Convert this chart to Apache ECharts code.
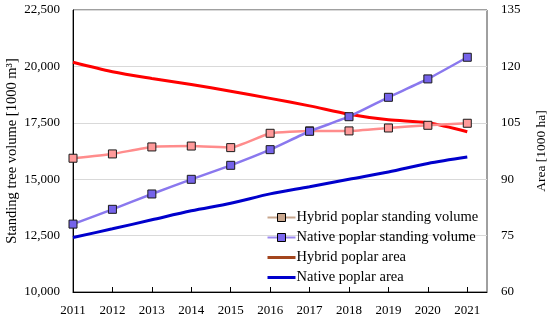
<!DOCTYPE html>
<html>
<head>
<meta charset="utf-8">
<script src="https://cdn.jsdelivr.net/npm/echarts@6/dist/echarts.min.js"></script>
<style>html,body{margin:0;padding:0;background:#fff}#c{width:550px;height:322px}</style>
</head>
<body>
<div id="c"></div>
<script>
var years = [2011, 2012, 2013, 2014, 2015, 2016, 2017, 2018, 2019, 2020, 2021];
var hybridVolume = [15930, 16120, 16430, 16470, 16400, 17035, 17140, 17140, 17270, 17390, 17480];
var nativeVolume = [13010, 13665, 14345, 14995, 15615, 16310, 17125, 17770, 18630, 19445, 20405];
var hybridArea = [121.1, 118.6, 116.8, 115.2, 113.4, 111.5, 109.5, 107.3, 105.8, 105.0, 102.6];
var nativeArea = [74.5, 76.8, 79.2, 81.6, 83.6, 86.1, 88.0, 90.0, 91.9, 94.2, 95.9];
var leftTicks = [10000, 12500, 15000, 17500, 20000, 22500];
var rightTicks = [60, 75, 90, 105, 120, 135];
var names = ['Hybrid poplar standing volume', 'Native poplar standing volume', 'Hybrid poplar area', 'Native poplar area'];

function pairs(vals) { return years.map(function (y, i) { return [y, vals[i]]; }); }

var FONT = 'Liberation Serif';
var chart = echarts.init(document.getElementById('c'));
chart.setOption({
  animation: false,
  textStyle: { fontFamily: FONT, color: '#000' },
  grid: { left: 73, right: 63, top: 10, bottom: 30, show: true, borderColor: '#404040', borderWidth: 1,
          containLabel: false, outerBoundsMode: 'none' },
  legend: {
    orient: 'vertical', left: 261, top: 205, itemGap: 5, itemWidth: 28, itemHeight: 10,
    textStyle: { fontFamily: FONT, fontSize: 14.5, color: '#000', padding: [0, 0, 0, -4] },
    data: [
      { name: names[0], itemStyle: { color: '#c8a68c', borderColor: '#000', borderWidth: 1 }, lineStyle: { color: '#c8a68c', width: 2 } },
      { name: names[1], itemStyle: { color: '#7b68ee', borderColor: '#000', borderWidth: 1 }, lineStyle: { color: '#9a88f0', width: 2 } },
      { name: names[2], itemStyle: { color: 'rgba(0,0,0,0)', borderWidth: 0 }, lineStyle: { color: '#a3461e', width: 3 } },
      { name: names[3], itemStyle: { color: 'rgba(0,0,0,0)', borderWidth: 0 }, lineStyle: { color: '#0000cc', width: 3 } }
    ]
  },
  xAxis: {
    type: 'value', min: 2011, max: 2021.5, interval: 1,
    axisLine: { lineStyle: { color: '#000', width: 1 } },
    axisTick: { inside: true, length: 5, lineStyle: { color: '#000' }, customValues: years },
    axisLabel: { fontSize: 13, margin: 12, color: '#000', customValues: years, formatter: function (v) { return String(v); } },
    splitLine: { show: false }
  },
  yAxis: [
    {
      type: 'value', min: 10000, max: 22500, interval: 2500,
      name: 'Standing tree volume [1000 m³]', nameLocation: 'middle', nameGap: 53, nameRotate: 90,
      nameMoveOverlap: false,
      nameTextStyle: { fontSize: 14.5, fontFamily: FONT, color: '#000' },
      axisLine: { show: true, lineStyle: { color: '#000', width: 1 } },
      axisTick: { show: false },
      axisLabel: { fontSize: 13, margin: 13, color: '#000', formatter: function (v) { return v.toLocaleString('en-US'); } },
      splitLine: { show: true, lineStyle: { color: '#d9d9d9', width: 1 } }
    },
    {
      type: 'value', min: 60, max: 135, interval: 15,
      name: 'Area [1000 ha]', nameLocation: 'middle', nameGap: 47, nameRotate: 90,
      nameMoveOverlap: false,
      nameTextStyle: { fontSize: 13.5, fontFamily: FONT, color: '#000' },
      axisLine: { show: false }, axisTick: { show: false },
      axisLabel: { fontSize: 13, margin: 14, color: '#000' },
      splitLine: { show: false }
    }
  ],
  series: [
    {
      name: names[0], type: 'line', yAxisIndex: 0, data: pairs(hybridVolume), smooth: 0.15,
      symbol: 'rect', symbolSize: 8, z: 3,
      lineStyle: { color: '#ff8c8c', width: 2.5 },
      itemStyle: { color: '#ff9a9a', borderColor: '#1a1a1a', borderWidth: 1 }
    },
    {
      name: names[1], type: 'line', yAxisIndex: 0, data: pairs(nativeVolume), smooth: 0.15,
      symbol: 'rect', symbolSize: 8, z: 4,
      lineStyle: { color: '#8a78ee', width: 2.5 },
      itemStyle: { color: '#7563ea', borderColor: '#1a1a1a', borderWidth: 1 }
    },
    {
      name: names[2], type: 'line', yAxisIndex: 1, data: pairs(hybridArea), smooth: 0.3,
      showSymbol: false, symbol: 'none', z: 2,
      lineStyle: { color: '#ff0000', width: 3 }, itemStyle: { color: '#ff0000' }
    },
    {
      name: names[3], type: 'line', yAxisIndex: 1, data: pairs(nativeArea), smooth: 0.3,
      showSymbol: false, symbol: 'none', z: 2,
      lineStyle: { color: '#0000cc', width: 3 }, itemStyle: { color: '#0000cc' }
    }
  ]
});
</script>
</body>
</html>
